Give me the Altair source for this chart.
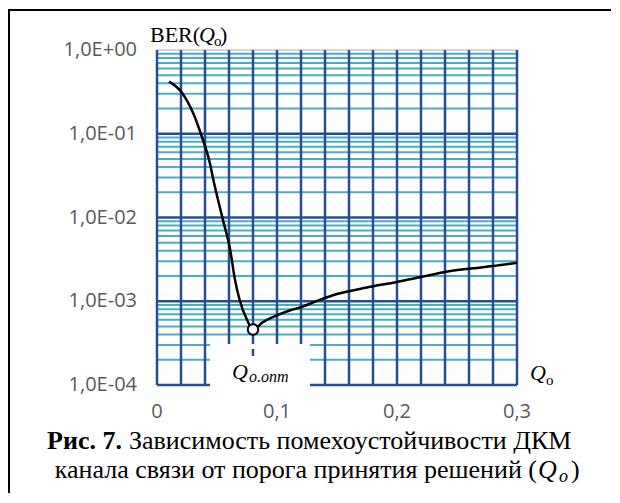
import altair as alt
import pandas as pd

# ---- data ----
q_vals = [0.010, 0.020, 0.030, 0.0375, 0.044, 0.047, 0.055, 0.061, 0.065, 0.069,
          0.075, 0.080, 0.088, 0.097, 0.110, 0.120, 0.135, 0.150, 0.175, 0.200, 0.220,
          0.240, 0.260, 0.280, 0.300]
ber_vals = [0.42, 0.32, 0.178, 0.091, 0.045, 0.028, 0.0093, 0.0041, 0.0018, 0.00102,
            0.0006, 0.00046, 0.00056, 0.00065, 0.00077, 0.00085, 0.00103, 0.00122, 0.00146,
            0.0017, 0.00195, 0.00224, 0.00245, 0.00263, 0.00288]
q_opt = [0.080]
ber_opt = [0.00046]

x_ticks = [0, 0.1, 0.2, 0.3]
x_tick_labels = ["0", "0,1", "0,2", "0,3"]
y_ticks = [1e-4, 1e-3, 1e-2, 1e-1, 1.0]
y_tick_labels = ["1,0E-04", "1,0E-03", "1,0E-02", "1,0E-01", "1,0E+00"]
v_grid = [0, 0.02, 0.04, 0.06, 0.08, 0.10, 0.12, 0.14, 0.16, 0.18, 0.20, 0.22, 0.24, 0.26, 0.28, 0.30]
major_grid = [1e-4, 1e-3, 1e-2, 1e-1]
minor_grid = [k * 10.0 ** e for e in (-4, -3, -2, -1) for k in range(2, 10)]

W, H = 360, 335
DARK = "#274f8b"
CYAN = "#4bacc6"
SERIF = "Liberation Serif"
TICK_FONT = "Open Sans"
TICK_SIZE = 20
TICK_COLOR = "#595959"

xs = alt.Scale(domain=[0, 0.3], nice=False, zero=False)
ys = alt.Scale(type="log", domain=[1e-4, 1], nice=False)

def X(f):
    return alt.X(f, type="quantitative", scale=xs, axis=None)

def Y(f):
    return alt.Y(f, type="quantitative", scale=ys, axis=None)

curve_df = pd.DataFrame({"q": q_vals, "ber": ber_vals})
opt_df = pd.DataFrame({"q": q_opt, "ber": ber_opt})

minor = alt.Chart(pd.DataFrame({"g": minor_grid})).mark_rule(color=CYAN, strokeWidth=2).encode(y=Y("g"))
major = alt.Chart(pd.DataFrame({"g": major_grid})).mark_rule(color=DARK, strokeWidth=2.5).encode(y=Y("g"))
topline = alt.Chart(pd.DataFrame({"g": [1.0]})).mark_rule(color="#d9d9d9", strokeWidth=2).encode(y=Y("g"))
vert = alt.Chart(pd.DataFrame({"g": v_grid})).mark_rule(color=DARK, strokeWidth=2.5).encode(x=X("g"))

xlab = alt.Chart(pd.DataFrame({"v": x_ticks, "t": x_tick_labels})).mark_text(
    font=TICK_FONT, fontSize=TICK_SIZE, color=TICK_COLOR, align="center", baseline="middle").encode(
    x=X("v"), y=alt.value(H + 27), text="t:N")
ylab = alt.Chart(pd.DataFrame({"v": y_ticks, "t": y_tick_labels})).mark_text(
    font=TICK_FONT, fontSize=TICK_SIZE, color=TICK_COLOR, align="right", baseline="middle").encode(
    y=Y("v"), x=alt.value(-20), text="t:N")

box = alt.Chart(pd.DataFrame({"a": [0.0442], "b": [0.1275]})).mark_rect(color="white").encode(
    x=X("a"), x2="b", y=alt.value(294), y2=alt.value(345))
dash = alt.Chart(opt_df).mark_rule(color=DARK, strokeWidth=2.5).encode(
    x=X("q"), y=alt.value(299), y2=alt.value(306))

curve = alt.Chart(curve_df).mark_line(color="black", strokeWidth=2.5, interpolate="monotone").encode(
    x=X("q"), y=Y("ber"))
pt = alt.Chart(opt_df).mark_point(shape="circle", size=110, filled=True, fill="white",
                                  stroke="black", strokeWidth=2, opacity=1).encode(x=X("q"), y=Y("ber"))

def txt(s, x, y, size=22, style="normal", weight="normal", align="left"):
    return alt.Chart(pd.DataFrame({"t": [s]})).mark_text(
        font=SERIF, fontSize=size, fontStyle=style, fontWeight=weight, align=align,
        baseline="alphabetic", color="black").encode(text="t:N", x=alt.value(x), y=alt.value(y))

CAP = 26
texts = [
    # BER(Qo)
    txt("BER(", -7, -8), txt("Q", 42, -8, style="italic"), txt("o", 57, -4, size=15), txt(")", 63, -8),
    # Qo axis label
    txt("Q", 373, 330, style="italic"), txt("o", 389, 335, size=15),
    # Qo.opt label
    txt("Q", 75, 329, style="italic"), txt("o.опт", 92, 332, size=16, style="italic"),
    # caption
    txt("Рис. 7.", -35, 399, size=CAP, weight="bold", align="right"),
    txt("Зависимость помехоустойчивости ДКМ", -28, 399, size=CAP),
    txt("канала связи от порога принятия решений (", 380, 428, size=CAP, align="right"),
    txt("Q", 381, 428, size=CAP, style="italic"), txt("o", 402, 432, size=18, style="italic"),
    txt(")", 414, 428, size=CAP),
]

frame_left = alt.Chart(pd.DataFrame({"t": [0]})).mark_rule(color="black", strokeWidth=2).encode(
    x=alt.value(-148), y=alt.value(-41), y2=alt.value(H + 108))
frame_top = alt.Chart(pd.DataFrame({"t": [0]})).mark_rule(color="black", strokeWidth=2).encode(
    x=alt.value(-149), x2=alt.value(W + 94), y=alt.value(-40))

chart = alt.layer(minor, major, topline, vert, xlab, ylab, box, dash, curve, pt,
                  frame_left, frame_top, *texts).properties(
    width=W, height=H,
    autosize=alt.AutoSizeParams(type="none"),
    padding={"left": 149, "top": 42, "right": 94, "bottom": 108},
    background="white",
).configure_view(stroke=None)

chart.save("out.html", embed_options={"renderer": "svg", "actions": False})
